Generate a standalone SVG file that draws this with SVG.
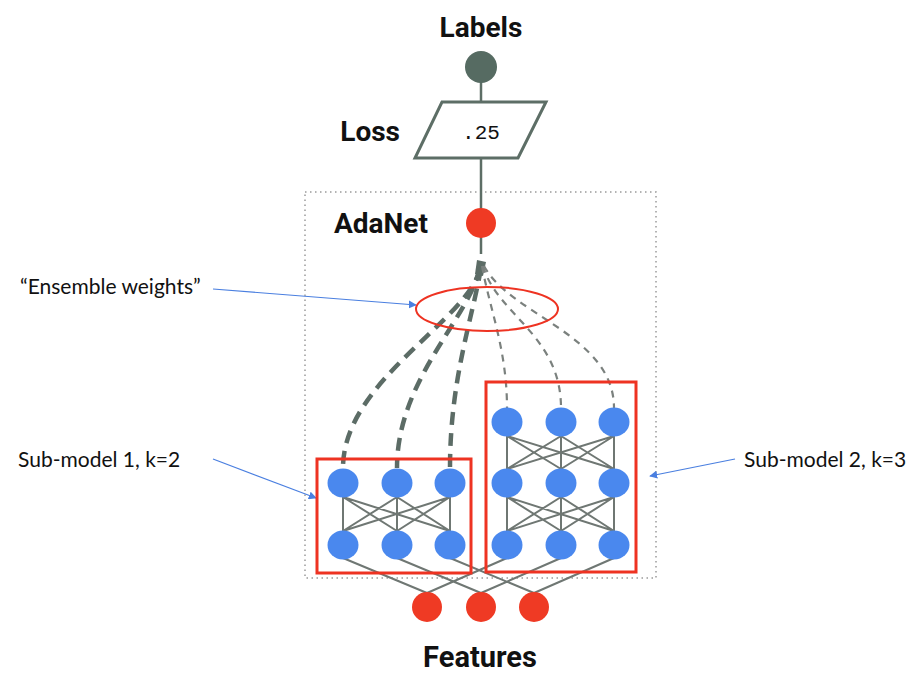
<svg xmlns="http://www.w3.org/2000/svg" width="923" height="683" viewBox="0 0 923 683">
<defs>
<marker id="bluearrow" viewBox="0 0 10 10" refX="9" refY="5" markerWidth="8" markerHeight="8" markerUnits="userSpaceOnUse" orient="auto">
<path d="M0,0 L10,5 L0,10 z" fill="#4a7fe0"/>
</marker>
<style>
.title{font-family:Roboto,"Liberation Sans",sans-serif;font-weight:bold;font-size:28px;fill:#111}
.note{font-family:Lato,"Liberation Sans",sans-serif;font-size:21px;fill:#111}
.mono{font-family:"Liberation Mono",monospace;font-size:21px;fill:#111}
.neuron{fill:#4a88ee}
.feat{fill:#ef3a24}
.wire{stroke:#6f7773;stroke-width:2;fill:none}
.thick{stroke:#5c6c66;stroke-width:4.5;fill:none;stroke-dasharray:13 8}
.thin{stroke:#7b817e;stroke-width:2.2;fill:none;stroke-dasharray:7 6}
.redbox{fill:none;stroke:#ee3322;stroke-width:3}
.blue{stroke:#4a7fe0;stroke-width:1.2;fill:none;marker-end:url(#bluearrow)}
</style>
</defs>
<rect width="923" height="683" fill="#fff"/>

<!-- dotted AdaNet container -->
<rect id="adanet-box" x="305" y="192" width="351" height="386" fill="none" stroke="#9a9a9a" stroke-width="1.5" stroke-dasharray="1.5 3.5"/>

<g id="connectors">
<line x1="481" y1="82" x2="481" y2="102" stroke="#5d6e66" stroke-width="2.5"/>
<line x1="481" y1="158" x2="481" y2="209" stroke="#5d6e66" stroke-width="2.5"/>
<line x1="481" y1="236" x2="481" y2="254" stroke="#5d6e66" stroke-width="2.5"/>
<path d="M477,260 L486,262 L483,276 L475,274 z" fill="#5c6c66"/>
<path class="thick" d="M480,268 C470,320 343,380 343,468"/>
<path class="thick" d="M480,268 C468,320 397,380 397,468"/>
<path class="thick" d="M481,268 C472,320 450,380 450,468"/>
<path class="thin" d="M482,266 C490,310 507,350 507,408"/>
<path class="thin" d="M483,266 C497,315 561,335 561,408"/>
<path class="thin" d="M484,266 C510,315 614,335 614,408"/>
<g class="wire">
<path d="M343,497 L343,531 M343,497 L397,531 M343,497 L450,531 M397,497 L343,531 M397,497 L397,531 M397,497 L450,531 M450,497 L343,531 M450,497 L397,531 M450,497 L450,531"/>
<path d="M507,436 L507,469 M507,436 L561,469 M507,436 L614,469 M561,436 L507,469 M561,436 L561,469 M561,436 L614,469 M614,436 L507,469 M614,436 L561,469 M614,436 L614,469"/>
<path d="M507,497 L507,531 M507,497 L561,531 M507,497 L614,531 M561,497 L507,531 M561,497 L561,531 M561,497 L614,531 M614,497 L507,531 M614,497 L561,531 M614,497 L614,531"/>
<path d="M343,558 L427,593 M397,558 L481,593 M450,558 L534,593 M507,558 L427,593 M561,558 L481,593 M614,558 L534,593"/>
</g>
<line class="blue" x1="213" y1="289" x2="416" y2="305"/>
<line class="blue" x1="213" y1="459" x2="316" y2="498"/>
<line class="blue" x1="735" y1="459" x2="650" y2="476"/>
</g>

<g id="labels">
<text class="title" x="481" y="37" text-anchor="middle">Labels</text>
<circle cx="481" cy="67" r="16" fill="#566b62"/>
</g>

<g id="loss">
<text class="title" x="400" y="141" text-anchor="end">Loss</text>
<polygon points="442,102 546,102 518,158 415,158" fill="#fff" stroke="#5d6e66" stroke-width="3"/>
<text class="mono" x="481" y="139" text-anchor="middle">.25</text>
</g>

<g id="adanet">
<text class="title" x="334" y="233">AdaNet</text>
<circle cx="481" cy="223" r="15" fill="#ef3a24"/>
</g>

<g id="ensemble-weights">
<ellipse cx="487" cy="309" rx="71" ry="22" fill="none" stroke="#ee3322" stroke-width="2"/>
<text class="note" x="20" y="294">“Ensemble weights”</text>
</g>

<g id="submodel1">
<rect class="redbox" x="317" y="459" width="154" height="114"/>
<ellipse class="neuron" cx="343" cy="483" rx="15.5" ry="14.5"/>
<ellipse class="neuron" cx="397" cy="483" rx="15.5" ry="14.5"/>
<ellipse class="neuron" cx="450" cy="483" rx="15.5" ry="14.5"/>
<ellipse class="neuron" cx="343" cy="545" rx="15.5" ry="14.5"/>
<ellipse class="neuron" cx="397" cy="545" rx="15.5" ry="14.5"/>
<ellipse class="neuron" cx="450" cy="545" rx="15.5" ry="14.5"/>
<text class="note" x="18" y="467">Sub-model 1, k=2</text>
</g>

<g id="submodel2">
<rect class="redbox" x="486" y="382" width="150" height="190"/>
<ellipse class="neuron" cx="507" cy="422" rx="15.5" ry="14.5"/>
<ellipse class="neuron" cx="561" cy="422" rx="15.5" ry="14.5"/>
<ellipse class="neuron" cx="614" cy="422" rx="15.5" ry="14.5"/>
<ellipse class="neuron" cx="507" cy="483" rx="15.5" ry="14.5"/>
<ellipse class="neuron" cx="561" cy="483" rx="15.5" ry="14.5"/>
<ellipse class="neuron" cx="614" cy="483" rx="15.5" ry="14.5"/>
<ellipse class="neuron" cx="507" cy="545" rx="15.5" ry="14.5"/>
<ellipse class="neuron" cx="561" cy="545" rx="15.5" ry="14.5"/>
<ellipse class="neuron" cx="614" cy="545" rx="15.5" ry="14.5"/>
<text class="note" x="744" y="467">Sub-model 2, k=3</text>
</g>

<g id="features">
<circle class="feat" cx="427" cy="607" r="15"/>
<circle class="feat" cx="481" cy="607" r="15"/>
<circle class="feat" cx="534" cy="607" r="15"/>
<text class="title" x="480" y="667" text-anchor="middle" style="font-size:29px">Features</text>
</g>
</svg>
